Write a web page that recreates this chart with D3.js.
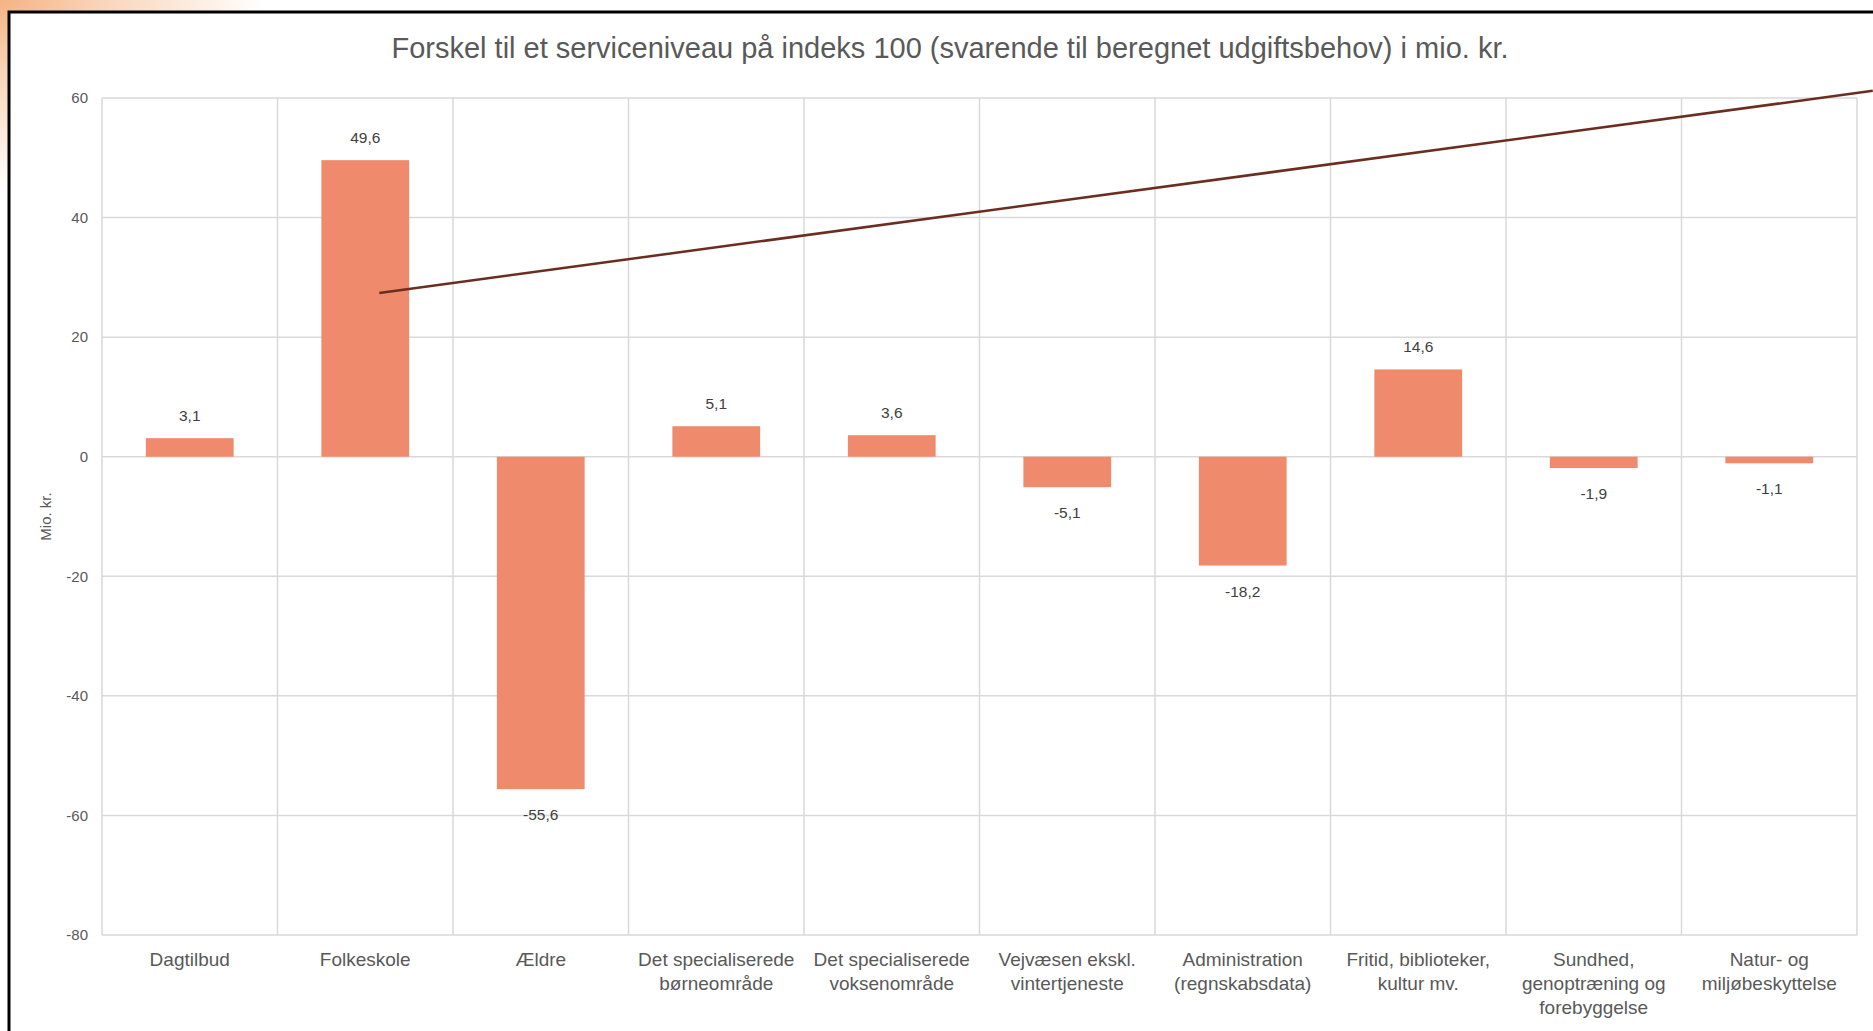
<!DOCTYPE html>
<head>
  <meta charset="utf-8">
  <script src="https://d3js.org/d3.v7.min.js"></script>
  <style>
    html, body { margin: 0; padding: 0; background: #fff; }
    svg { display: block; font-family: "Liberation Sans", Arial, sans-serif; }
  </style>
</head>
<body>
<div id="chart"></div>
<script>
// data
var categories = [
    ["Dagtilbud"],
    ["Folkeskole"],
    ["Ældre"],
    ["Det specialiserede", "børneområde"],
    ["Det specialiserede", "voksenområde"],
    ["Vejvæsen ekskl.", "vintertjeneste"],
    ["Administration", "(regnskabsdata)"],
    ["Fritid, biblioteker,", "kultur mv."],
    ["Sundhed,", "genoptræning og", "forebyggelse"],
    ["Natur- og", "miljøbeskyttelse"]
];
var values = [3.1, 49.6, -55.6, 5.1, 3.6, -5.1, -18.2, 14.6, -1.9, -1.1];
var yTicks = [-80, -60, -40, -20, 0, 20, 40, 60];
var title = "Forskel til et serviceniveau på indeks 100 (svarende til beregnet udgiftsbehov) i mio. kr.";
var yTitle = "Mio. kr.";
// stray annotation line, in (category index, value) units
var arrowLine = [[1.58, 27.4], [10.09, 61.2]];

var width = 1873, height = 1031;
var margin = {left: 102, right: 16, top: 98, bottom: 96};

var svg = d3.select("#chart").append("svg")
    .attr("width", width)
    .attr("height", height);

// orange glow in the corner behind the frame
var defs = svg.append("defs");
var grad = defs.append("radialGradient")
    .attr("id", "glow")
    .attr("gradientUnits", "userSpaceOnUse")
    .attr("cx", 0).attr("cy", 0).attr("r", 240)
    .attr("gradientTransform", "scale(1.1,0.8)");
grad.append("stop").attr("offset", "0%").attr("stop-color", "#f5b383");
grad.append("stop").attr("offset", "40%").attr("stop-color", "#f9d6bb");
grad.append("stop").attr("offset", "100%").attr("stop-color", "#ffffff");
svg.append("rect").attr("width", width).attr("height", height).attr("fill", "url(#glow)");
svg.append("rect").attr("x", 9).attr("y", 12).attr("width", width).attr("height", height).attr("fill", "#fff");
svg.append("path")
    .attr("d", "M9," + height + "V12H" + width)
    .attr("fill", "none")
    .attr("stroke", "#000")
    .attr("stroke-width", 3);

var x = d3.scaleBand()
    .domain(d3.range(categories.length))
    .range([margin.left, width - margin.right])
    .paddingInner(0.5)
    .paddingOuter(0.25);
var xIdx = d3.scaleLinear()
    .domain([0, categories.length])
    .range([margin.left, width - margin.right]);
var y = d3.scaleLinear()
    .domain([-80, 60])
    .range([height - margin.bottom, margin.top]);

// title
svg.append("text")
    .attr("x", 950)
    .attr("y", 58)
    .attr("text-anchor", "middle")
    .attr("font-size", 29)
    .attr("fill", "#595959")
    .text(title);

// gridlines
var grid = svg.append("g").attr("stroke", "#d9d9d9").attr("stroke-width", 1.5);
grid.selectAll(".h").data(yTicks).enter().append("line")
    .attr("x1", margin.left).attr("x2", width - margin.right)
    .attr("y1", function(d) { return y(d); })
    .attr("y2", function(d) { return y(d); });
grid.selectAll(".v").data(d3.range(categories.length + 1)).enter().append("line")
    .attr("x1", function(d) { return xIdx(d); })
    .attr("x2", function(d) { return xIdx(d); })
    .attr("y1", y(60)).attr("y2", y(-80));

// y axis
var yAxis = svg.append("g")
    .attr("transform", "translate(" + margin.left + ",0)")
    .call(d3.axisLeft(y).tickValues(yTicks).tickSize(0).tickPadding(14)
        .tickFormat(function(d) { return String(d); }));
yAxis.select(".domain").remove();
yAxis.selectAll("text")
    .attr("font-size", 15)
    .attr("font-family", "Liberation Sans, Arial, sans-serif")
    .attr("fill", "#595959");

svg.append("text")
    .attr("transform", "translate(51," + y(-10) + ") rotate(-90)")
    .attr("text-anchor", "middle")
    .attr("font-size", 15)
    .attr("fill", "#595959")
    .text(yTitle);

// bars
svg.selectAll(".bar").data(values).enter().append("rect")
    .attr("class", "bar")
    .attr("x", function(d, i) { return x(i); })
    .attr("width", x.bandwidth())
    .attr("y", function(d) { return y(Math.max(0, d)); })
    .attr("height", function(d) { return Math.abs(y(d) - y(0)); })
    .attr("fill", "#f08a6c");

// value labels
svg.selectAll(".lbl").data(values).enter().append("text")
    .attr("x", function(d, i) { return x(i) + x.bandwidth() / 2; })
    .attr("y", function(d) { return d >= 0 ? y(d) - 17 : y(d) + 31; })
    .attr("text-anchor", "middle")
    .attr("font-size", 15.5)
    .attr("fill", "#404040")
    .text(function(d) { return String(d).replace(".", ","); });

// category labels
var cat = svg.selectAll(".cat").data(categories).enter().append("text")
    .attr("text-anchor", "middle")
    .attr("font-size", 19)
    .attr("fill", "#595959");
cat.selectAll("tspan").data(function(d, i) { return d.map(function(t) { return {t: t, i: i}; }); })
    .enter().append("tspan")
    .attr("x", function(d) { return x(d.i) + x.bandwidth() / 2; })
    .attr("y", function(d, j) { return 966 + j * 24; })
    .text(function(d) { return d.t; });

// annotation line
svg.append("path")
    .datum(arrowLine)
    .attr("d", d3.line()
        .x(function(d) { return xIdx(d[0]); })
        .y(function(d) { return y(d[1]); }))
    .attr("fill", "none")
    .attr("stroke", "#6b2d1f")
    .attr("stroke-width", 2.5);
</script>
</body>
</html>
